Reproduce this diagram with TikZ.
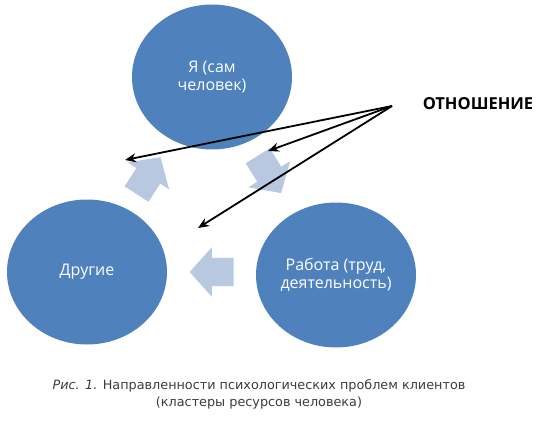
\documentclass[tikz,border=0pt]{standalone}
\usepackage{fontspec}
\setmainfont{Open Sans}
\newfontfamily\captionfont{DejaVu Sans}
\usetikzlibrary{arrows.meta,shapes.geometric,shapes.arrows}
\definecolor{clusterblue}{RGB}{79,129,189}
\definecolor{flowblue}{RGB}{185,200,225}
\definecolor{captiongray}{RGB}{60,60,60}
\tikzset{
  cluster circle/.style={
    ellipse, fill=clusterblue, text=white, align=center,
    minimum width=160pt, minimum height=145pt, inner sep=0pt,
    font=\fontsize{16}{18}\selectfont
  },
  flow arrow/.style={
    single arrow, fill=flowblue, inner xsep=0pt, inner ysep=14pt,
    minimum height=44pt, single arrow head extend=10.5pt,
    single arrow tip angle=96
  },
  relation arrow/.style={-{Stealth[length=11pt,width=9pt]}, line width=1.8pt, black}
}
\begin{document}
\begin{tikzpicture}[x=1pt,y=-1pt]
  \useasboundingbox (0,0) rectangle (541,425);
  % resource clusters
  \node[cluster circle] (self) at (212,77) {Я (сам\\человек)};
  \node[cluster circle] (others) at (87,272) {Другие};
  \node[cluster circle] (work) at (336,275) {Работа (труд,\\деятельность)};
  % directions between the clusters
  \node[flow arrow, rotate=57] (toself) at (145,181) {};
  \node[flow arrow, rotate=-58] (towork) at (266,169) {};
  \node[flow arrow, rotate=180] (toothers) at (218,272) {};
  % relation
  \node[font=\bfseries\fontsize{16.5}{18}\selectfont] (relation) at (478,104) {ОТНОШЕНИЕ};
  \coordinate (relsrc) at (392,106);
  \coordinate (selftip) at (125,160);
  \coordinate (worktip) at (268,151);
  \coordinate (otherstip) at (198,228);
  \draw[relation arrow] (relsrc) -- (selftip);
  \draw[relation arrow] (relsrc) -- (worktip);
  \draw[relation arrow] (relsrc) -- (otherstip);
  % caption
  \node[font=\captionfont\fontsize{12.8}{17}\selectfont, text=captiongray, align=center] (caption) at (259,394)
    {\textit{Рис. 1.} Направленности психологических проблем клиентов\\(кластеры ресурсов человека)};
\end{tikzpicture}
\end{document}
